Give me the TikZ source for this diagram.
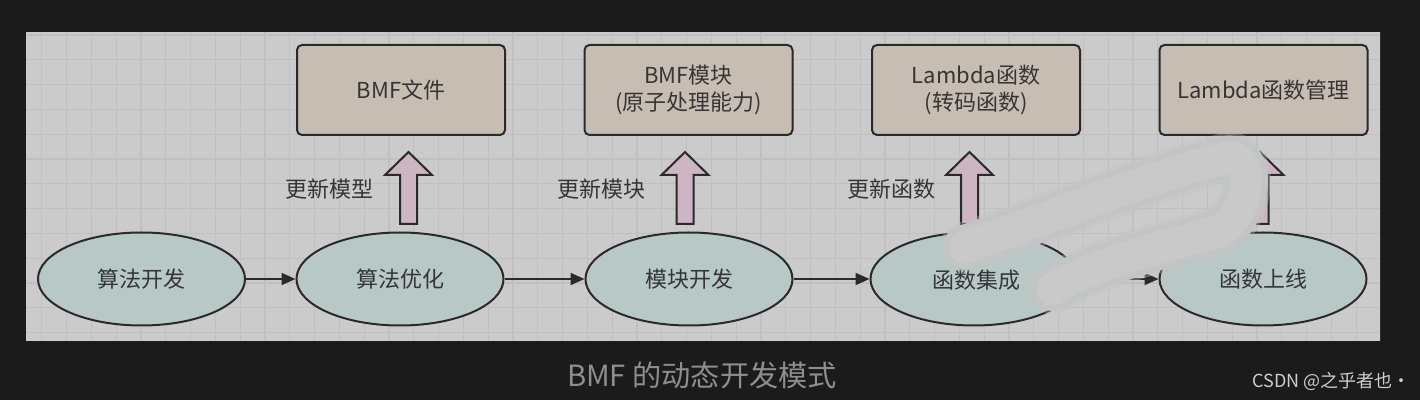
\documentclass[tikz,border=0pt]{standalone}
\usepackage{fontspec}
\setmainfont{Noto Sans CJK SC}
\usetikzlibrary{arrows.meta,shapes.geometric}

\definecolor{pagebg}{HTML}{1B1B1B}
\definecolor{panelbg}{HTML}{CBCBCB}
\definecolor{gridcol}{HTML}{C0C0C0}
\definecolor{stagefill}{HTML}{B7C8C7}
\definecolor{resfill}{HTML}{C8BDB3}
\definecolor{liftfill}{HTML}{CDB5C4}
\definecolor{edgecol}{HTML}{2A2A2A}
\definecolor{inkcol}{HTML}{353535}
\definecolor{captioncol}{HTML}{8E8E8E}
\definecolor{markcol}{HTML}{CDCDCD}
\definecolor{brushedge}{HTML}{C3C4C4}
\definecolor{brushcore}{HTML}{CFCFCF}

\tikzset{
  gridline/.style={draw=gridcol, line width=0.6pt},
  stage/.style={ellipse, draw=edgecol, fill=stagefill, line width=1pt,
    minimum width=103.5pt, minimum height=46.5pt, inner sep=0pt,
    font=\fontsize{11pt}{13.5pt}\selectfont, text=inkcol},
  resbox/.style={rectangle, rounded corners=2.5pt, draw=edgecol, fill=resfill,
    line width=1pt, minimum width=104pt, minimum height=45pt, inner sep=0pt,
    align=center, font=\fontsize{11pt}{13.5pt}\selectfont, text=inkcol},
  flow/.style={draw=edgecol, line width=1pt, -{Triangle[length=7pt,width=6pt]}},
  lbl/.style={font=\fontsize{11pt}{13.5pt}\selectfont, text=inkcol, inner sep=0pt},
  liftstyle/.style={draw=edgecol, fill=liftfill, line width=1pt, line join=miter},
  pics/liftarrow/.style={code={
    \draw[liftstyle] (-8.5,0) -- (-8.5,-49) -- (-23.5,-49) -- (0,-72)
      -- (23.5,-49) -- (8.5,-49) -- (8.5,0) -- cycle;}},
  brush/.style={line cap=round, line join=round},
}

\begin{document}
\begin{tikzpicture}[x=0.5pt,y=-0.5pt]
  % page and panel
  \fill[pagebg] (0,0) rectangle (1420,400);
  \useasboundingbox (0,0) rectangle (1420,400);
  \fill[panelbg] (26,32) rectangle (1380,341);
  \begin{scope}
    \clip (26,32) rectangle (1380,341);
    \foreach \i in {0,...,54}
      \draw[gridline] ({41.7+24.8*\i},32) -- ({41.7+24.8*\i},341);
    \foreach \j in {0,...,12}
      \draw[gridline] (26,{35+24.8*\j}) -- (1380,{35+24.8*\j});
  \end{scope}

  % development stages
  \node[stage] (e1) at (141.5,279) {算法开发};
  \node[stage] (e2) at (400,279) {算法优化};
  \node[stage] (e3) at (689,279) {模块开发};
  \node[stage] (e4) at (974,279) {};
  \node[lbl, anchor=west] (e4t) at (932,280) {函数集成};
  \node[stage] (e5) at (1263,279) {函数上线};

  \draw[flow] (e1) -- (e2);
  \draw[flow] (e2) -- (e3);
  \draw[flow] (e3) -- (e4);
  \draw[flow] (e4) -- (e5);

  % resulting artefacts
  \node[resbox] (r2) at (401,90) {BMF文件};
  \node[resbox] (r3) at (688.5,90) {BMF模块\\(原子处理能力)};
  \node[resbox] (r4) at (976,90) {Lambda函数\\(转码函数)};
  \node[resbox] (r5) at (1263.5,90) {Lambda函数管理};

  % update arrows
  \coordinate (u2) at (408.5,224);
  \coordinate (u3) at (685,224);
  \coordinate (u4) at (969.5,224);
  \coordinate (u5) at (1260,224);
  \pic at (u2) {liftarrow};
  \pic at (u3) {liftarrow};
  \pic at (u4) {liftarrow};
  \pic at (u5) {liftarrow};

  \node[lbl, anchor=east] (l2) at (374,189) {更新模型};
  \node[lbl, anchor=east] (l3) at (646,189) {更新模块};
  \node[lbl, anchor=east] (l4) at (936,189) {更新函数};

  % brush stroke over the last stages
  \def\brushpath{(965,247) .. controls (1045,220) and (1150,176) .. (1226,158)
    .. controls (1256,152) and (1250,212) .. (1222,230)
    .. controls (1170,246) and (1100,260) .. (1053,289)}
  \draw[brush, brushedge, opacity=0.35, line width=25pt] \brushpath;
  \draw[brush, brushedge, line width=22pt] \brushpath;
  \draw[brush, brushcore, opacity=0.5, line width=16pt] \brushpath;

  % caption and credit
  \node[font=\fontsize{14.6pt}{16pt}\selectfont, text=captioncol, inner sep=0pt] (cap) at (702,375) {BMF 的动态开发模式};
  \node[font=\fontsize{9pt}{11pt}\selectfont, text=markcol, inner sep=0pt, anchor=east] (credit) at (1411,381) {CSDN @之乎者也·};
\end{tikzpicture}
\end{document}
